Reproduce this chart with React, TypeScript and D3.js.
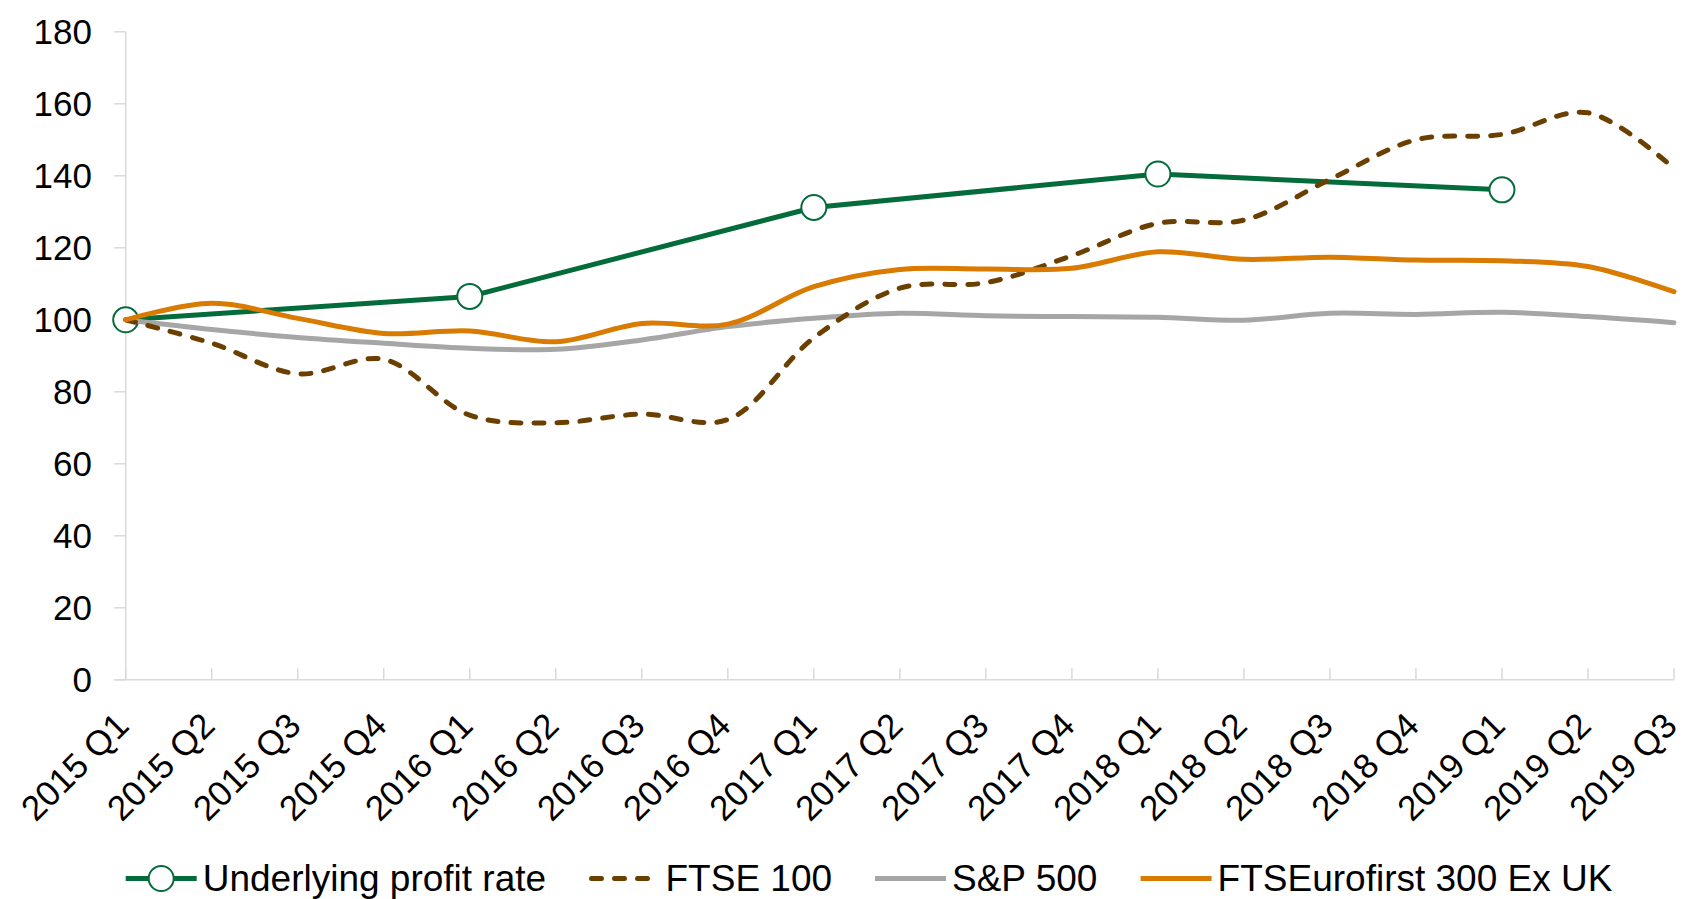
import React from 'react';
import * as d3 from 'd3';

const quarters = [
  '2015 Q1', '2015 Q2', '2015 Q3', '2015 Q4',
  '2016 Q1', '2016 Q2', '2016 Q3', '2016 Q4',
  '2017 Q1', '2017 Q2', '2017 Q3', '2017 Q4',
  '2018 Q1', '2018 Q2', '2018 Q3', '2018 Q4',
  '2019 Q1', '2019 Q2', '2019 Q3',
];

// annual points only, the line joins across the gaps
const profitRate = [100, null, null, null, 106.5, null, null, null, 131.2, null, null, null, 140.5, null, null, null, 136.1, null, null];
const ftse100 = [100, 93.5, 85, 89, 73.5, 71.4, 73.8, 72.3, 95, 108.8, 110.3, 117.8, 126.8, 127.7, 139, 150, 151.5, 157.5, 142];
const sp500 = [100, 97.3, 95.1, 93.5, 92.1, 91.8, 94.4, 98.1, 100.4, 101.8, 101.1, 100.9, 100.7, 99.9, 101.8, 101.5, 102.1, 100.9, 99.2];
const euroFirst = [100, 104.6, 100.4, 96.2, 96.9, 93.9, 99.0, 98.8, 109.2, 114, 114.1, 114.3, 118.9, 116.8, 117.4, 116.6, 116.4, 114.8, 107.8];

const yTicks = [0, 20, 40, 60, 80, 100, 120, 140, 160, 180];

const legendNames = ['Underlying profit rate', 'FTSE 100', 'S&P 500', 'FTSEurofirst 300 Ex UK'];

const GREEN = '#046b3a';
const BROWN = '#6b3f00';
const GREY = '#a6a6a6';
const ORANGE = '#d97b00';
const AXIS = '#d9d9d9';
const FONT = '"Liberation Sans", Arial, sans-serif';

const width = 1684;
const height = 899;
const left = 125.7;
const right = 1674;
const top = 31.8;
const bottom = 679.8;

export default function App() {
  const x = d3.scalePoint<string>().domain(quarters).range([left, right]);
  const y = d3.scaleLinear().domain([0, 180]).range([bottom, top]);

  const smooth = d3
    .line<number>()
    .x((_, i) => x(quarters[i]) as number)
    .y((d) => y(d))
    .curve(d3.curveCatmullRom.alpha(0.5));

  const profitPts = profitRate
    .map((v, i) => ({ q: quarters[i], v }))
    .filter((d) => d.v !== null) as { q: string; v: number }[];

  const straight = d3
    .line<{ q: string; v: number }>()
    .x((d) => x(d.q) as number)
    .y((d) => y(d.v));

  // legend layout
  const legendY = 878.5;
  const legendItems = [
    { x: 125.7, color: GREEN, dash: null, marker: true },
    { x: 588.5, color: BROWN, dash: '10 13', marker: false },
    { x: 875, color: GREY, dash: null, marker: false },
    { x: 1140.6, color: ORANGE, dash: null, marker: false },
  ];

  return (
    <svg
      width={width}
      height={height}
      style={{ position: 'absolute', left: 0, top: 0, background: '#fff' }}
      fontFamily={FONT}
    >
      {/* y axis */}
      <line x1={left} x2={left} y1={top} y2={bottom} stroke={AXIS} strokeWidth={1.5} />
      {yTicks.map((t) => (
        <g key={t}>
          <line x1={left - 11.5} x2={left} y1={y(t)} y2={y(t)} stroke={AXIS} strokeWidth={1.5} />
          <text x={92} y={y(t)} dy="0.35em" textAnchor="end" fontSize={35} fill="#000">
            {t}
          </text>
        </g>
      ))}

      {/* x axis */}
      <line x1={left - 11.5} x2={right} y1={bottom} y2={bottom} stroke={AXIS} strokeWidth={1.5} />
      {quarters.map((q) => (
        <g key={q}>
          <line
            x1={x(q)}
            x2={x(q)}
            y1={bottom}
            y2={bottom - 11.5}
            stroke={AXIS}
            strokeWidth={1.5}
          />
          <text
            transform={`translate(${(x(q) as number) + 5},${bottom + 48}) rotate(-45)`}
            textAnchor="end"
            fontSize={35}
            fill="#000"
          >
            {q}
          </text>
        </g>
      ))}

      {/* series */}
      <path d={straight(profitPts) || ''} fill="none" stroke={GREEN} strokeWidth={5} />
      {profitPts.map((d) => (
        <circle key={d.q} cx={x(d.q)} cy={y(d.v)} r={12.5} fill="#fff" stroke={GREEN} strokeWidth={2} />
      ))}
      <path d={smooth(sp500) || ''} fill="none" stroke={GREY} strokeWidth={5} strokeLinecap="round" />
      <path
        d={smooth(ftse100) || ''}
        fill="none"
        stroke={BROWN}
        strokeWidth={5}
        strokeDasharray="10 13"
        strokeLinecap="round"
      />
      <path d={smooth(euroFirst) || ''} fill="none" stroke={ORANGE} strokeWidth={5} strokeLinecap="round" />

      {/* legend */}
      {legendItems.map((it, i) => (
        <g key={legendNames[i]}>
          <line
            x1={it.x + (it.dash ? 3 : 0)}
            x2={it.x + 71}
            y1={legendY}
            y2={legendY}
            stroke={it.color}
            strokeWidth={5}
            strokeDasharray={it.dash || undefined}
            strokeLinecap={it.dash ? 'round' : 'butt'}
          />
          {it.marker && (
            <circle cx={it.x + 35.5} cy={legendY} r={12.5} fill="#fff" stroke={it.color} strokeWidth={2} />
          )}
          <text x={it.x + 77} y={legendY} dy="0.35em" fontSize={37} fill="#000">
            {legendNames[i]}
          </text>
        </g>
      ))}
    </svg>
  );
}
